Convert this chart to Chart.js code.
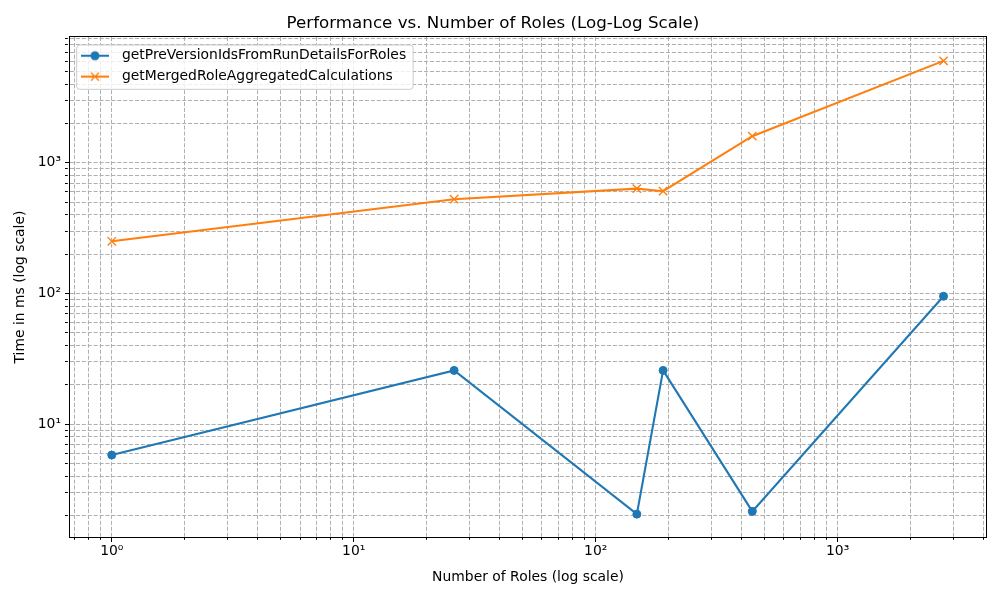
<!DOCTYPE html>
<html>
<head>
<meta charset="utf-8">
<script src="https://cdn.jsdelivr.net/npm/chart.js@4.4.1/dist/chart.umd.min.js"></script>
<style>
  body { margin: 0; background: #ffffff; }
  #wrap { width: 1000px; height: 600px; }
</style>
</head>
<body>
<div id="wrap"><canvas id="chart" width="1000" height="600"></canvas></div>
<script>
// values
const roleCounts = [1, 26, 148, 190, 444, 2740];
const preVersionMs = [5.8, 25.8, 2.05, 25.8, 2.15, 95.3];
const mergedRoleMs = [251, 527, 635, 607, 1600, 6030];

const seriesNames = ['getPreVersionIdsFromRunDetailsForRoles', 'getMergedRoleAggregatedCalculations'];

// axis ranges and decades used for ticks
const xRange = [0.672, 4105];
const yRange = [1.37, 9180];
const xDecades = [0.1, 1, 10, 100, 1000];
const yDecades = [1, 10, 100, 1000];
const tickSteps = [1, 2, 3, 4, 5, 6, 7, 8, 9];

const BLUE = '#1f77b4';
const ORANGE = '#ff7f0e';
const FONT = 'DejaVu Sans';

const supDigits = { '-': '⁻', '0': '⁰', '1': '¹', '2': '²', '3': '³', '4': '⁴' };

function logTicks(decades, range) {
    const out = [];
    decades.forEach(d => {
        tickSteps.forEach(m => {
            const v = +(m * d).toPrecision(6);
            if (v >= range[0] && v <= range[1]) out.push({ value: v, major: m === 1 });
        });
    });
    return out;
}

function powerLabel(value, index, ticks) {
    if (!ticks[index].major) return '';
    const exp = String(Math.round(Math.log10(value)));
    return '10' + exp.split('').map(c => supDigits[c]).join('');
}

// legend handle: short line with the marker in the middle
function legendIcon(color, marker) {
    const c = document.createElement('canvas');
    c.width = 38;
    c.height = 14;
    const g = c.getContext('2d');
    g.strokeStyle = color;
    g.lineWidth = 2.08;
    g.beginPath();
    g.moveTo(4, 7);
    g.lineTo(32, 7);
    g.stroke();
    if (marker === 'circle') {
        g.fillStyle = color;
        g.beginPath();
        g.arc(18, 7, 4.5, 0, Math.PI * 2);
        g.fill();
    } else {
        g.lineWidth = 1.4;
        g.beginPath();
        g.moveTo(14, 3); g.lineTo(22, 11);
        g.moveTo(22, 3); g.lineTo(14, 11);
        g.stroke();
    }
    return c;
}

const legendIcons = [legendIcon(BLUE, 'circle'), legendIcon(ORANGE, 'x')];

const framePlugin = {
    id: 'frame',
    afterLayout(chart) {
        const lg = chart.legend;
        if (!lg) return;
        lg.left = chart.chartArea.left;
        lg.top = chart.chartArea.top + 4.7;
        if (!lg._boxWrapped) {
            const origDraw = lg.draw.bind(lg);
            lg.draw = function () {
                const ctx = chart.ctx;
                const widest = Math.max(...lg.legendHitBoxes.map(h => h.width));
                const x = lg.left + 6.7;
                const y = lg.top + 3.3;
                const w = (lg.left + 7 + widest + 7) - x;
                const h = 44.3;
                ctx.save();
                ctx.beginPath();
                ctx.roundRect(x, y, w, h, 3);
                ctx.fillStyle = 'rgba(255,255,255,0.8)';
                ctx.fill();
                ctx.strokeStyle = '#cccccc';
                ctx.lineWidth = 1;
                ctx.stroke();
                ctx.restore();
                origDraw();
            };
            lg._boxWrapped = true;
        }
    },
    afterDatasetsDraw(chart) {
        const a = chart.chartArea;
        const ctx = chart.ctx;
        ctx.save();
        ctx.strokeStyle = '#000000';
        ctx.lineWidth = 1;
        ctx.strokeRect(Math.round(a.left) - 0.5, Math.round(a.top) - 0.5,
            Math.round(a.right - a.left) + 1, Math.round(a.bottom - a.top) + 1);
        ctx.restore();
    }
};

function axisOptions(range, decades, titleText, titlePadding) {
    const tickList = logTicks(decades, range);
    return {
        type: 'logarithmic',
        min: range[0],
        max: range[1],
        afterBuildTicks: axis => { axis.ticks = tickList.map(t => ({ value: t.value, major: t.major })); },
        ticks: {
            autoSkip: false,
            maxRotation: 0,
            padding: 4,
            color: '#000000',
            font: { family: FONT, size: 13.9 },
            callback: powerLabel
        },
        grid: {
            color: '#b0b0b0',
            lineWidth: 1,
            drawTicks: true,
            tickLength: 5,
            tickColor: '#000000',
            tickWidth: 1,
            tickBorderDash: ctx => (ctx.tick && ctx.tick.major) ? [] : [2.8, 10]
        },
        border: { display: false, dash: [4.1, 1.8] },
        title: {
            display: true,
            text: titleText,
            color: '#000000',
            font: { family: FONT, size: 13.9, lineHeight: 1.2 },
            padding: titlePadding
        }
    };
}

const xAxis = axisOptions(xRange, xDecades, 'Number of Roles (log scale)', { top: 0, bottom: 14 });
xAxis.ticks.padding = 1;
xAxis.afterFit = scale => { scale.height = 63; };

const yAxis = axisOptions(yRange, yDecades, 'Time in ms (log scale)', { top: 11.7, bottom: 0 });
yAxis.afterFit = scale => { scale.width = 70; };

new Chart(document.getElementById('chart'), {
    type: 'line',
    data: {
        datasets: [
            {
                label: seriesNames[0],
                data: roleCounts.map((x, i) => ({ x: x, y: preVersionMs[i] })),
                borderColor: BLUE,
                backgroundColor: BLUE,
                borderWidth: 2.08,
                pointStyle: 'circle',
                pointRadius: 4,
                pointBorderWidth: 1,
                pointBorderColor: BLUE,
                pointBackgroundColor: BLUE,
                tension: 0,
                fill: false
            },
            {
                label: seriesNames[1],
                data: roleCounts.map((x, i) => ({ x: x, y: mergedRoleMs[i] })),
                borderColor: ORANGE,
                backgroundColor: ORANGE,
                borderWidth: 2.08,
                pointStyle: 'crossRot',
                pointRadius: 5.9,
                pointBorderWidth: 1.4,
                pointBorderColor: ORANGE,
                tension: 0,
                fill: false
            }
        ]
    },
    options: {
        responsive: false,
        devicePixelRatio: 1,
        animation: false,
        layout: { padding: { left: 0, right: 14, top: 0, bottom: 0 } },
        scales: { x: xAxis, y: yAxis },
        plugins: {
            title: {
                display: true,
                text: 'Performance vs. Number of Roles (Log-Log Scale)',
                color: '#000000',
                font: { family: FONT, size: 16.7, weight: 'normal', lineHeight: 1.2 },
                padding: { top: 14, bottom: 3 }
            },
            legend: {
                position: 'chartArea',
                align: 'start',
                labels: {
                    usePointStyle: true,
                    pointStyleWidth: 38,
                    padding: 7,
                    color: '#000000',
                    font: { family: FONT, size: 13.9 },
                    generateLabels: chart => chart.data.datasets.map((ds, i) => ({
                        text: ds.label,
                        datasetIndex: i,
                        pointStyle: legendIcons[i],
                        fillStyle: ds.borderColor,
                        strokeStyle: ds.borderColor,
                        lineWidth: 0,
                        fontColor: '#000000',
                        hidden: false
                    }))
                }
            },
            tooltip: { enabled: false }
        }
    },
    plugins: [framePlugin]
});
</script>
</body>
</html>
